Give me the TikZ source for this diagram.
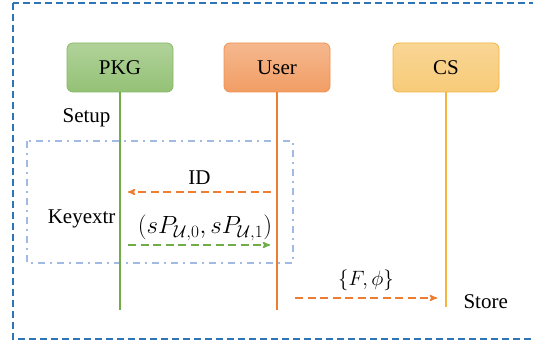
\documentclass[tikz,border=0pt]{standalone}
\usepackage{fontspec}
\setmainfont{Liberation Serif}
\usetikzlibrary{arrows,positioning}
\definecolor{frameblue}{RGB}{46,117,182}
\definecolor{boxblue}{RGB}{160,186,228}
\definecolor{pkggreen}{RGB}{112,173,71}
\definecolor{userorange}{RGB}{237,125,49}
\definecolor{csyellow}{RGB}{244,180,62}
\begin{document}
\begin{tikzpicture}[x=1pt,y=-1pt,
>=stealth',
font=\rmfamily\fontsize{21}{25}\selectfont,
actor/.style={rectangle, rounded corners=6pt, minimum width=106pt, minimum height=49pt, text centered, line width=0.8pt},
lifeline/.style={line width=1.2pt},
msg/.style={->, line width=1.5pt, dash pattern=on 8pt off 4.5pt},
]
  \useasboundingbox (0,0) rectangle (533,345);
  \clip (0,0) rectangle (533,345);
  \draw[frameblue, line width=1.8pt, dash pattern=on 7pt off 4pt] (13,3) rectangle (560,339);
  \draw[boxblue, line width=1.1pt, dash pattern=on 7pt off 5pt on 2pt off 5pt] (27,141) rectangle (293,263);

  \node (pkg) [actor, draw=pkggreen!85!white, top color=pkggreen!55!white, bottom color=pkggreen!75!white] at (120,67.5) {PKG};
  \node (user) [actor, draw=userorange!85!white, top color=userorange!55!white, bottom color=userorange!75!white] at (277,67.5) {User};
  \node (cs) [actor, draw=csyellow, top color=csyellow!55!white, bottom color=csyellow!70!white] at (446,67.5) {CS};

  \coordinate (pkgEnd) at (120,310);
  \coordinate (userEnd) at (277,310);
  \coordinate (csEnd) at (446,307);
  \draw[lifeline, pkggreen] (pkg.south) -- (pkgEnd);
  \draw[lifeline, userorange] (user.south) -- (userEnd);
  \draw[lifeline, csyellow] (cs.south) -- (csEnd);

  \node (setup) [anchor=east] at (114,118) {Setup};
  \node (keyextr) [anchor=east] at (119,219) {Keyextr};
  \node (store) [anchor=west] at (460,302) {Store};

  % messages
  \coordinate (idFrom) at (271,192);
  \coordinate (idTo) at (128,192);
  \draw[msg, userorange] (idFrom) -- node[above=3pt, black] {ID} (idTo);
  \coordinate (keyFrom) at (128,245);
  \coordinate (keyTo) at (270,245);
  \draw[msg, pkggreen] (keyFrom) -- node[above=0pt, black, xshift=6pt, font=\fontsize{23}{27}\selectfont] {$\bigl(sP_{\mathcal{U},0},sP_{\mathcal{U},1}\bigr)$} (keyTo);
  \coordinate (storeFrom) at (295,298);
  \coordinate (storeTo) at (437,298);
  \draw[msg, userorange] (storeFrom) -- node[above=3pt, black] {$\{F,\phi\}$} (storeTo);
\end{tikzpicture}
\end{document}
